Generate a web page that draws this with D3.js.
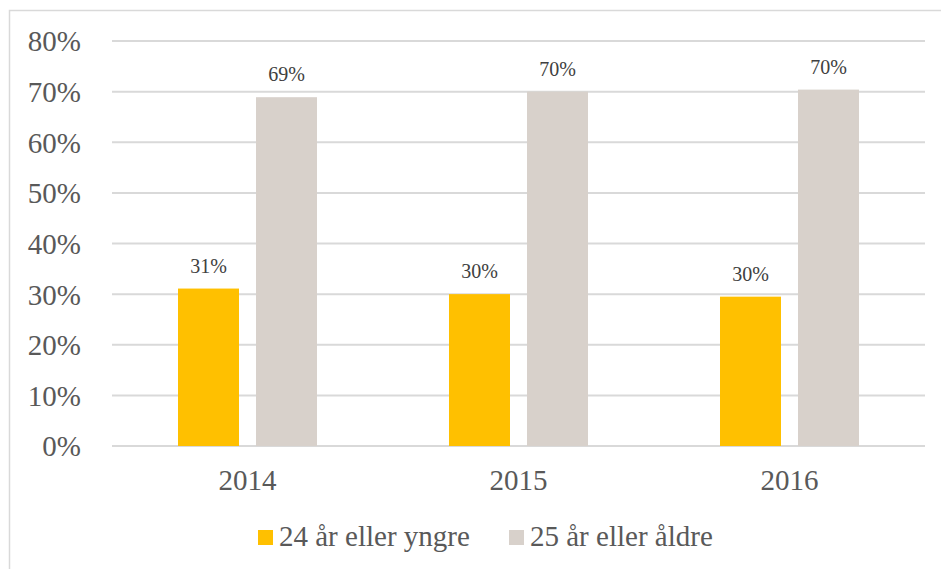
<!DOCTYPE html>
<html>
<head>
<meta charset="utf-8">
<script src="https://cdn.jsdelivr.net/npm/d3@7"></script>
<style>
  html, body { margin: 0; padding: 0; background: #fff; }
  svg { display: block; }
</style>
</head>
<body>
<svg id="chart" width="941" height="569"></svg>
<script>
const years = ["2014", "2015", "2016"];
const seriesNames = ["24 år eller yngre", "25 år eller åldre"];
const younger = [31.1, 30.0, 29.5];
const older = [68.9, 70.0, 70.4];
const youngerLabels = ["31%", "30%", "30%"];
const olderLabels = ["69%", "70%", "70%"];
const yTicks = [0, 10, 20, 30, 40, 50, 60, 70, 80];

const colours = ["#FFC000", "#D8D1CB"];
const font = "'Liberation Serif', 'Times New Roman', serif";

const svg = d3.select("#chart");

// outer chart frame (right/bottom edges sit outside the picture)
svg.append("rect")
  .attr("x", 9.5).attr("y", 10.5)
  .attr("width", 960).attr("height", 600)
  .attr("fill", "#fff")
  .attr("stroke", "#D9D9D9")
  .attr("stroke-width", 1.5);

const plot = { left: 112, right: 925, top: 41, bottom: 446 };

const x = d3.scaleBand()
  .domain(years)
  .range([plot.left, plot.right]);

const x1 = d3.scaleBand()
  .domain([0, 1])
  .range([0, x.bandwidth()])
  .paddingInner(0.218)
  .paddingOuter(0.846);

const y = d3.scaleLinear()
  .domain([0, 80])
  .range([plot.bottom, plot.top]);

// gridlines
svg.append("g")
  .selectAll("line")
  .data(yTicks)
  .join("line")
  .attr("x1", plot.left).attr("x2", plot.right)
  .attr("y1", d => y(d)).attr("y2", d => y(d))
  .attr("stroke", "#D9D9D9")
  .attr("stroke-width", 2);

// y tick labels
svg.append("g")
  .selectAll("text")
  .data(yTicks)
  .join("text")
  .attr("x", 81)
  .attr("y", d => y(d))
  .attr("dy", "0.36em")
  .attr("text-anchor", "end")
  .attr("font-family", font)
  .attr("font-size", 29)
  .attr("fill", "#595959")
  .text(d => d + "%");

const rows = years.map((yr, i) => ({
  year: yr,
  vals: [younger[i], older[i]],
  labels: [youngerLabels[i], olderLabels[i]]
}));

const groups = svg.append("g")
  .selectAll("g")
  .data(rows)
  .join("g")
  .attr("transform", d => `translate(${x(d.year)},0)`);

const bars = groups.selectAll("g")
  .data(d => d.vals.map((v, k) => ({ v, k, label: d.labels[k] })))
  .join("g");

bars.append("rect")
  .attr("x", d => x1(d.k))
  .attr("width", x1.bandwidth())
  .attr("y", d => y(d.v))
  .attr("height", d => y(0) - y(d.v))
  .attr("fill", d => colours[d.k]);

bars.append("text")
  .attr("x", d => x1(d.k) + x1.bandwidth() / 2)
  .attr("y", d => y(d.v) - 16)
  .attr("text-anchor", "middle")
  .attr("font-family", font)
  .attr("font-size", 20)
  .attr("fill", "#404040")
  .text(d => d.label);

// category labels
svg.append("g")
  .selectAll("text")
  .data(years)
  .join("text")
  .attr("x", d => x(d) + x.bandwidth() / 2)
  .attr("y", 490)
  .attr("text-anchor", "middle")
  .attr("font-family", font)
  .attr("font-size", 29)
  .attr("fill", "#595959")
  .text(d => d);

// legend
const legendX = [258, 509];
const legend = svg.append("g")
  .selectAll("g")
  .data(seriesNames)
  .join("g")
  .attr("transform", (d, i) => `translate(${legendX[i]},530)`);

legend.append("rect")
  .attr("width", 15).attr("height", 15)
  .attr("fill", (d, i) => colours[i]);

legend.append("text")
  .attr("x", 21)
  .attr("y", 16)
  .attr("font-family", font)
  .attr("font-size", 29)
  .attr("fill", "#595959")
  .text(d => d);
</script>
</body>
</html>
